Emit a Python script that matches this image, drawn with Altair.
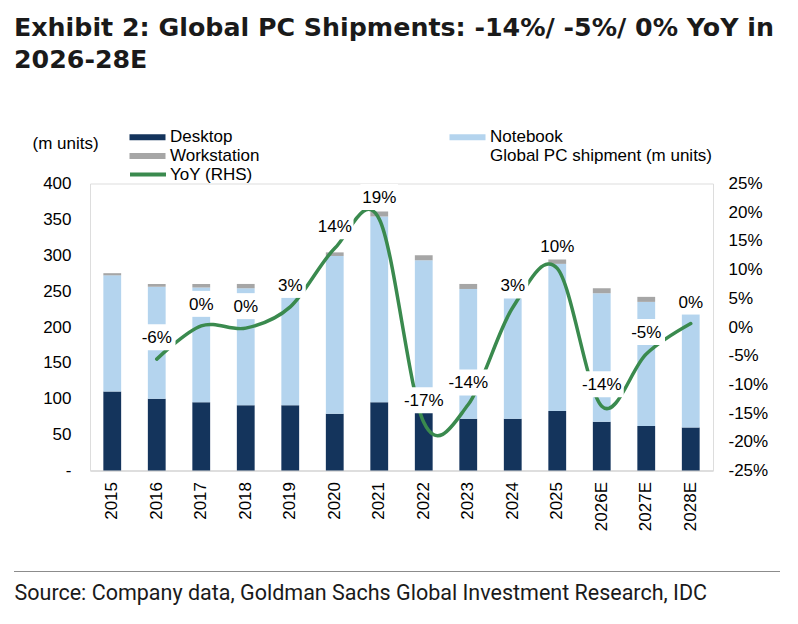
import altair as alt
import pandas as pd

years = ["2015", "2016", "2017", "2018", "2019", "2020", "2021", "2022",
         "2023", "2024", "2025", "2026E", "2027E", "2028E"]
desktop = [110, 100, 95, 91, 91, 79, 95, 82, 72, 72, 83, 68, 62, 60]
notebook = [162, 156, 160, 163, 172, 220, 259, 211, 181, 190, 205, 179, 173, 176]
workstation = [3, 4, 5, 6, 5, 5, 7, 7, 7, 6, 8, 7, 7, 6]

yoy_years = years[1:]
yoy = [-5.6, 0.2, -0.2, 3.5, 13.7, 18.8, -16.6, -13.5, 3.4, 10.2, -13.8, -4.7, 0.6]
yoy_labels = ["-6%", "0%", "0%", "3%", "14%", "19%", "-17%", "-14%", "3%",
              "10%", "-14%", "-5%", "0%"]

left_ticks = [0, 50, 100, 150, 200, 250, 300, 350, 400]
right_ticks = [-25, -20, -15, -10, -5, 0, 5, 10, 15, 20, 25]

# legend order (column-wise): Desktop, Workstation | Notebook, Global PC shipment
series_names = ["Desktop", "Workstation", "Notebook",
                "Global PC shipment (m units)"]
series_colors = ["#14345c", "#a6a6a6", "#b4d4ee", "rgba(0,0,0,0)"]
stack_order = {"Desktop": 0, "Notebook": 1, "Workstation": 2}
line_name = "YoY (RHS)"
line_color = "#3a8a4e"

FONT = "Liberation Sans"
FS = 17

rows = []
for i, y in enumerate(years):
    for name, vals in (("Desktop", desktop), ("Notebook", notebook),
                       ("Workstation", workstation)):
        rows.append({"year": y, "series": name, "value": vals[i],
                     "ord": stack_order[name]})
df_bars = pd.DataFrame(rows)
df_yoy = pd.DataFrame({"year": yoy_years, "yoy": yoy, "label": yoy_labels})

x_enc = alt.X(
    "year:N", sort=years,
    scale=alt.Scale(paddingInner=0.6, paddingOuter=0.3),
    axis=alt.Axis(
        title="Source: Company data, Goldman Sachs Global Investment Research, IDC",
        titleX=-76, titleY=123, titleAlign="left", titleBaseline="middle",
        titleAngle=0, titleFont="Roboto", titleFontSize=21.5, titleFontWeight="normal",
        titleColor="#1a1a1a",
        labelAngle=-90, labelAlign="right", labelBaseline="middle",
        labelPadding=11, ticks=False, tickSize=0,
        labelFont=FONT, labelFontSize=FS, labelColor="black",
        domainColor="#d9d9d9", domainWidth=1.5, grid=False,
    ),
)

bars = alt.Chart(df_bars).mark_bar().encode(
    x=x_enc,
    y=alt.Y(
        "value:Q", stack="zero",
        scale=alt.Scale(domain=[0, 400], nice=False, zero=True),
        axis=alt.Axis(
            values=left_ticks, grid=False, ticks=False, tickSize=0, domain=False,
            labelPadding=19, labelFont=FONT, labelFontSize=FS, labelColor="black",
            labelExpr="datum.value == 0 ? '-\u00a0\u00a0' : datum.value",
            title="(m units)", titleAngle=0, titleX=-58, titleY=-40,
            titleAlign="left", titleBaseline="middle", titleFont=FONT,
            titleFontSize=FS, titleFontWeight="normal", titleColor="black",
        ),
    ),
    color=alt.Color(
        "series:N",
        scale=alt.Scale(domain=series_names, range=series_colors),
        legend=alt.Legend(
            orient="none", legendX=49, legendY=-55, columns=2,
            columnPadding=189, rowPadding=1, padding=0,
            symbolType="M-6,-1L6,-1L6,1L-6,1Z", symbolSize=36,
            symbolStrokeWidth=0, labelOffset=14, labelLimit=400,
            labelFont=FONT, labelFontSize=FS, labelColor="black", title=None,
        ),
    ),
    order=alt.Order("ord:Q", sort="ascending"),
)

right_axis = alt.Axis(
    orient="right", values=right_ticks, grid=False, ticks=False, tickSize=0,
    domain=False, labelPadding=15, labelAlign="left",
    labelFont=FONT, labelFontSize=FS, labelColor="black",
    labelExpr="datum.value + '%'", title=None,
)
y_scale = alt.Scale(domain=[-25, 25], nice=False, zero=False)
y_right = alt.Y("yoy:Q", scale=y_scale, axis=right_axis)

line = alt.Chart(df_yoy).transform_calculate(
    series="'" + line_name + "'"
).mark_line(interpolate="cardinal", strokeWidth=3.5, strokeCap="round").encode(
    x=alt.X("year:N", sort=years),
    y=y_right,
    stroke=alt.Stroke(
        "series:N",
        scale=alt.Scale(domain=[line_name], range=[line_color]),
        legend=alt.Legend(
            orient="none", legendX=38, legendY=-29, padding=0,
            symbolType="stroke", symbolSize=1296, symbolStrokeWidth=4,
            labelOffset=2, labelFont=FONT, labelFontSize=FS,
            labelColor="black", title=None,
        ),
    ),
)

boxes = alt.Chart(df_yoy).transform_calculate(
    boxw="6.5*length(datum.label)+18"
).mark_bar(color="white", yOffset=-35, y2Offset=-9).encode(
    x=alt.X("year:N", sort=years),
    y=y_right,
    y2=alt.Y2("yoy"),
    size=alt.Size("boxw:Q", scale=None, legend=None),
)

texts = alt.Chart(df_yoy).mark_text(
    dy=-21, baseline="middle", align="center", font=FONT, fontSize=FS, color="black"
).encode(
    x=alt.X("year:N", sort=years),
    y=y_right,
    text="label:N",
)

rule = alt.Chart(pd.DataFrame({"r": [0]})).mark_rule(
    color="#8c8c8c", strokeWidth=1
).encode(x=alt.value(-76), x2=alt.value(690), y=alt.value(388))

inner = alt.layer(line, boxes, texts)

chart = alt.layer(bars, inner, rule).resolve_scale(
    y="independent"
).properties(
    width=623, height=287,
    autosize=alt.AutoSizeParams(type="none"),
    padding={"left": 82, "top": 175.5, "right": 70, "bottom": 137},
    title=alt.Title(
        text=["Exhibit 2: Global PC Shipments: -14%/ -5%/ 0% YoY in", "2026-28E"],
        anchor="start", frame="group", dx=-76, offset=55,
        font="DejaVu Sans", fontSize=25.3, fontWeight="bold", color="#1a1a1a",
        lineHeight=32,
    ),
).configure_view(strokeWidth=0).configure(background="white")

chart.save("out.html", embed_options={"renderer": "svg", "actions": False})
